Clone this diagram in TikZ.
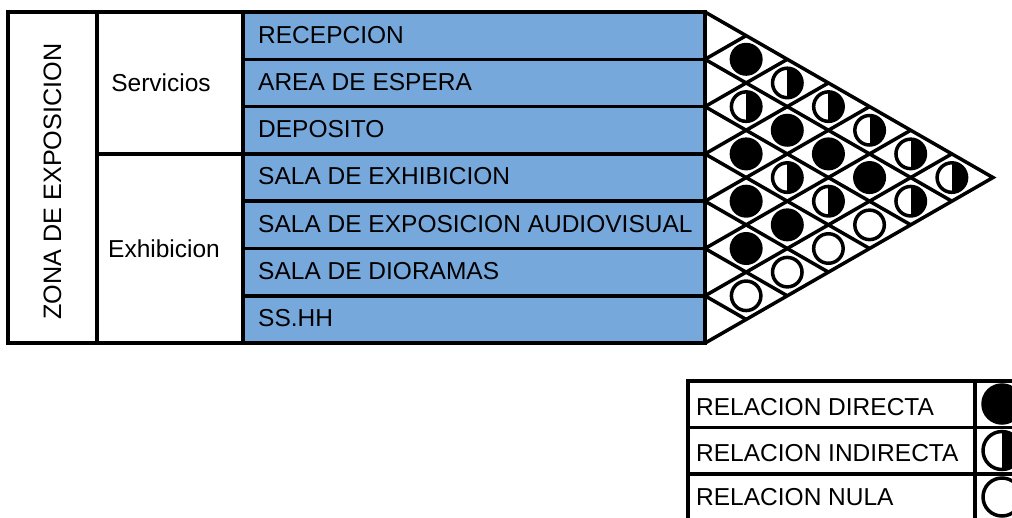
\documentclass[tikz,border=0pt]{standalone}
\usepackage{fontspec}
\setmainfont{Liberation Sans}
\definecolor{rowblue}{RGB}{118,168,220}
\tikzset{
  lw/.style={line width=3.5pt},
  txt/.style={font=\fontsize{24.5}{28}\selectfont, inner sep=0pt},
  cellbox/.style={draw, lw, inner sep=0pt, outer sep=0pt, anchor=north west},
  bluerow/.style={cellbox, fill=rowblue, minimum width=462pt, minimum height=47.3pt},
  rel/.style={circle, draw, lw, inner sep=0pt, minimum size=29.5pt},
  full/.style={rel, fill=black},
  nula/.style={rel, fill=white},
  half/.style={rel, fill=white, path picture={\fill[black] (path picture bounding box.north) rectangle (path picture bounding box.south east);}},
  legrow/.style={cellbox, minimum width=287pt, minimum height=46.5pt},
  legsym/.style={cellbox, minimum width=60pt, minimum height=46.5pt},
  lrel/.style={minimum size=38pt},
}
\begin{document}
\begin{tikzpicture}[x=1pt,y=-1pt]
\useasboundingbox (0,0) rectangle (1012,517);
\clip (0,0) rectangle (1012,517);
\fill[white] (0,0) rectangle (1012,517);

% left columns
\node[cellbox, minimum width=89pt, minimum height=331.1pt] (zona) at (8,12) {};
\node[txt, rotate=90, font=\fontsize{25.2}{28}\selectfont] (zonat) at ([yshift=-4pt]zona.center) {ZONA DE EXPOSICION};
\node[cellbox, minimum width=146pt, minimum height=141.9pt] (serv) at (97,12) {};
\node[txt] (servt) at ([xshift=-9pt]serv.center) {Servicios};
\node[cellbox, minimum width=146pt, minimum height=189.2pt] (exhi) at (97,153.9) {};
\node[txt] (exhit) at ([xshift=-6pt]exhi.center) {Exhibicion};

% blue rows
\foreach \k/\t in {1/RECEPCION,2/AREA DE ESPERA,3/DEPOSITO,4/SALA DE EXHIBICION,5/SALA DE EXPOSICION AUDIOVISUAL,6/SALA DE DIORAMAS,7/SS.HH}{
  \node[bluerow] (r\k) at (243,{12+47.3*(\k-1)}) {};
  \node[txt, anchor=west] (r\k t) at ([xshift=15pt,yshift=1pt]r\k.west) {\t};
}

% matrix grid
\foreach \k in {1,...,6}{
  \draw[lw] (705,{12+47.3*\k}) -- ++({(7-\k)*41.14},{(7-\k)*23.65});
  \draw[lw] (705,{12+47.3*\k}) -- ++({\k*41.14},{-\k*23.65});
}
\coordinate (tA) at (705,12);
\coordinate (tB) at (993,177.55);
\coordinate (tC) at (705,343.1);
\draw[lw, line join=miter] (tA) -- (tB) -- (tC);

% relations
\foreach \i/\j/\s in {1/2/full,2/3/half,3/4/full,4/5/full,5/6/full,6/7/nula,
  1/3/half,2/4/full,3/5/half,4/6/full,5/7/nula,
  1/4/half,2/5/full,3/6/half,4/7/nula,
  1/5/half,2/6/full,3/7/nula,
  1/6/half,2/7/half,
  1/7/half}{
  \node[\s] (m\i\j) at ({705+41.14*(\j-\i)},{12+47.3*((\i+\j)/2-0.5)}) {};
}

% legend
\node[legrow] (l1) at (688,381) {};
\node[legrow] (l2) at (688,427.5) {};
\node[legrow] (l3) at (688,474) {};
\node[legsym] (s1) at (975,381) {};
\node[legsym] (s2) at (975,427.5) {};
\node[legsym] (s3) at (975,474) {};
\node[txt, anchor=west] (l1t) at ([xshift=8pt,yshift=-3pt]l1.west) {RELACION DIRECTA};
\node[txt, anchor=west] (l2t) at ([xshift=8pt,yshift=-2pt]l2.west) {RELACION INDIRECTA};
\node[txt, anchor=west] (l3t) at ([xshift=8pt]l3.west) {RELACION NULA};
\node[full, lrel] (c1) at (1002,404) {};
\node[half, lrel] (c2) at (1002,450.5) {};
\node[nula, lrel] (c3) at (1002,497) {};
\end{tikzpicture}
\end{document}
